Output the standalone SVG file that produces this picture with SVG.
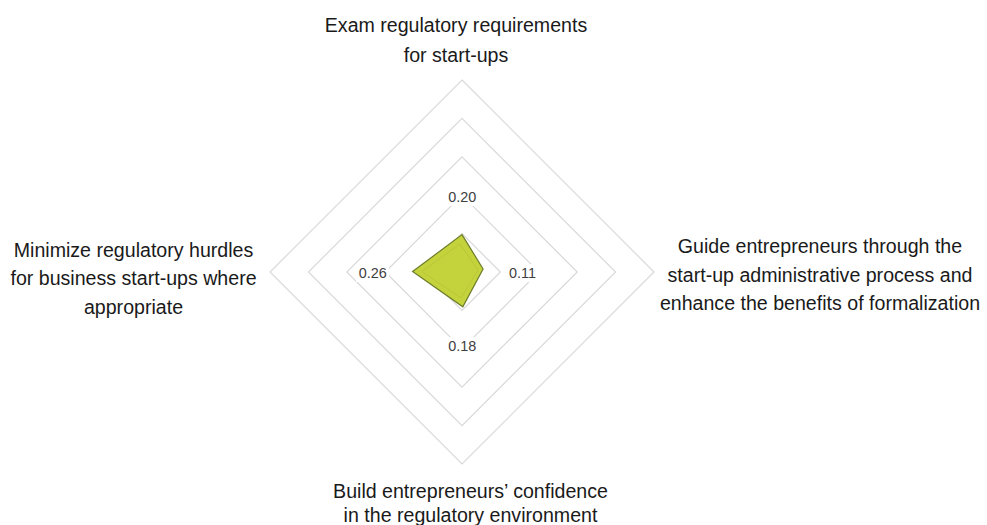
<svg xmlns="http://www.w3.org/2000/svg" width="987" height="525" viewBox="0 0 987 525">
  <style>
    .grid { fill: none; stroke: #d9d9d9; stroke-width: 1.2; }
    .lbl { font-family: "Liberation Sans", Arial, sans-serif; font-size: 19.6px; fill: #1a1a1a; text-anchor: middle; }
    .val { font-family: "Liberation Sans", Arial, sans-serif; font-size: 14.4px; fill: #404040; text-anchor: middle; }
    .valbg { fill: #ffffff; }
    .series { fill: #c4d33c; stroke: #6e7d2b; stroke-width: 1.2; stroke-linejoin: miter; }
    .bevel { fill: none; stroke: #b3c234; stroke-width: 1; opacity: 0.7; }
  </style>
  <rect width="987" height="525" fill="#ffffff"/>
  <g id="grid">
    <polygon class="grid" points="462,233.6 500.4,272 462,310.4 423.6,272"/>
    <polygon class="grid" points="462,195.2 538.8,272 462,348.8 385.2,272"/>
    <polygon class="grid" points="462,156.8 577.2,272 462,387.2 346.8,272"/>
    <polygon class="grid" points="462,118.4 615.6,272 462,425.6 308.4,272"/>
    <polygon class="grid" points="462,80 654,272 462,464 270,272"/>
  </g>
  <g id="series">
    <polygon class="series" points="462,234.6 483.1,269 462.8,306.8 412.6,271.5"/>
    <polygon class="bevel" points="460,244 478,270 461,298 422,271.5"/>
  </g>
  <g id="values">
    <rect class="valbg" x="446" y="188" width="32" height="18"/>
    <text class="val" x="462.3" y="202">0.20</text>
    <rect class="valbg" x="506" y="264" width="33" height="18"/>
    <text class="val" x="522.5" y="278">0.11</text>
    <rect class="valbg" x="446" y="337" width="32" height="18"/>
    <text class="val" x="462.3" y="351">0.18</text>
    <rect class="valbg" x="356" y="264" width="33" height="18"/>
    <text class="val" x="372.8" y="278">0.26</text>
  </g>
  <g id="axis-top">
    <text class="lbl" x="456" y="31.5">Exam regulatory requirements</text>
    <text class="lbl" x="456" y="61.5">for start-ups</text>
  </g>
  <g id="axis-right">
    <text class="lbl" x="820" y="253">Guide entrepreneurs through the</text>
    <text class="lbl" x="820" y="281.5">start-up administrative process and</text>
    <text class="lbl" x="820" y="310">enhance the benefits of formalization</text>
  </g>
  <g id="axis-bottom">
    <text class="lbl" x="470.5" y="498">Build entrepreneurs’ confidence</text>
    <text class="lbl" x="470.5" y="522">in the regulatory environment</text>
  </g>
  <g id="axis-left">
    <text class="lbl" x="133.5" y="256.5">Minimize regulatory hurdles</text>
    <text class="lbl" x="133.5" y="285">for business start-ups where</text>
    <text class="lbl" x="133.5" y="313.5">appropriate</text>
  </g>
</svg>
